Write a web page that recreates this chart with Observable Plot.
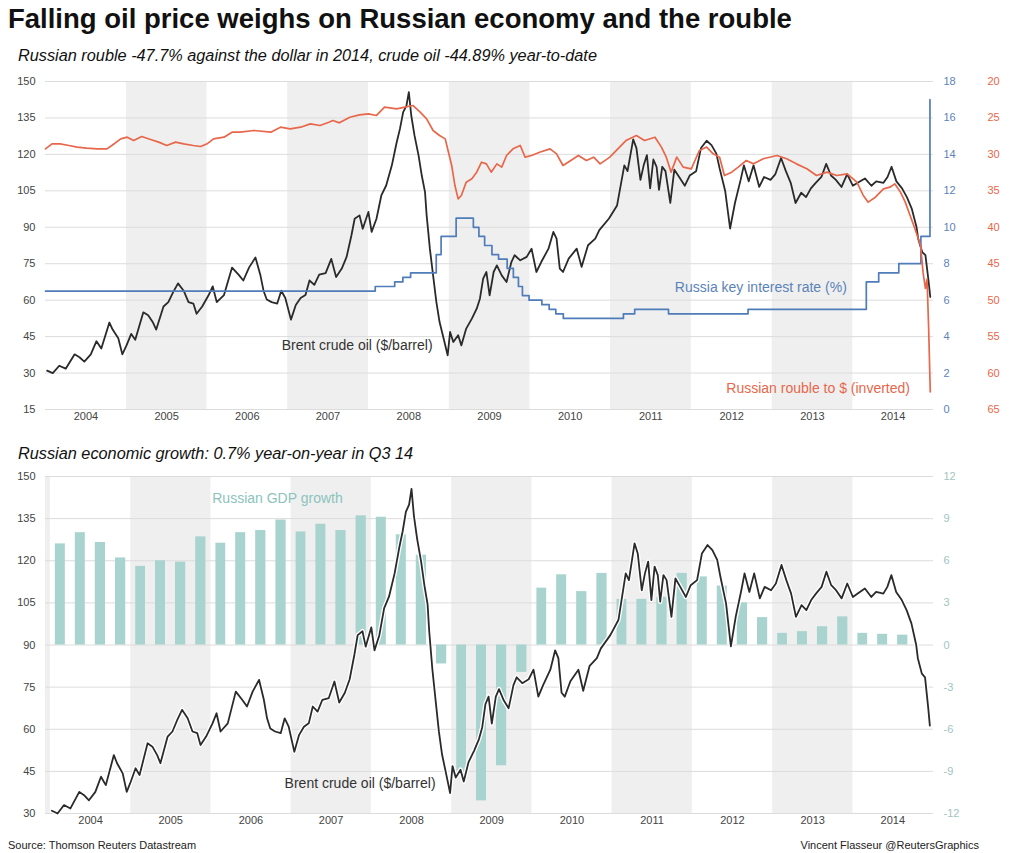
<!DOCTYPE html>
<html>
<head>
<meta charset="utf-8">
<script src="https://cdn.jsdelivr.net/npm/d3@7"></script>
<script src="https://cdn.jsdelivr.net/npm/@observablehq/plot@0.6"></script>
<style>
  body { margin: 0; background: #fff; }
  #page { position: relative; width: 1024px; height: 853px; overflow: hidden; background: #fff;
          font-family: "Liberation Sans", Arial, sans-serif; }
  .abs { position: absolute; white-space: nowrap; }
  #title { left: 8px; top: 5px; font-size: 27.5px; line-height: 28px; font-weight: bold; color: #111; }
  .sub { left: 18px; font-size: 16.3px; line-height: 16px; font-style: italic; color: #111; }
  #sub1 { top: 47px; }
  #sub2 { top: 445px; }
  .foot { top: 840px; font-size: 11px; line-height: 11px; color: #222; }
  #source { left: 8px; }
  #credit { right: 45px; }
  .layer { position: absolute; left: 0; }
</style>
</head>
<body>
<div id="page">
  <div id="title" class="abs">Falling oil price weighs on Russian economy and the rouble</div>
  <div id="sub1" class="abs sub">Russian rouble -47.7% against the dollar in 2014, crude oil -44.89% year-to-date</div>
  <div id="sub2" class="abs sub">Russian economic growth: 0.7% year-on-year in Q3 14</div>
  <div id="source" class="abs foot">Source: Thomson Reuters Datastream</div>
  <div id="credit" class="abs foot">Vincent Flasseur @ReutersGraphics</div>
</div>
<script>
// ---------------- DATA ----------------
// Brent crude oil ($/barrel): time as decimal year, price
const oilTimes = [
  2004.02,2004.09,2004.17,2004.25,2004.36,2004.42,2004.48,2004.56,2004.63,2004.69,2004.79,2004.83,2004.90,2004.95,
  2005.00,2005.06,2005.11,2005.21,2005.27,2005.33,2005.37,2005.46,2005.52,2005.58,2005.64,2005.71,2005.77,2005.83,2005.87,2005.94,
  2006.02,2006.07,2006.12,2006.21,2006.31,2006.39,2006.45,2006.52,2006.60,2006.66,2006.70,2006.74,2006.80,2006.87,2006.92,2006.97,
  2007.04,2007.10,2007.16,2007.22,2007.27,2007.33,2007.39,2007.47,2007.54,2007.60,2007.67,2007.73,2007.79,2007.83,2007.89,2007.93,
  2008.00,2008.04,2008.10,2008.16,2008.22,2008.29,2008.35,2008.39,2008.43,2008.47,2008.50,2008.53,2008.57,2008.62,2008.66,
  2008.70,2008.72,2008.76,2008.80,2008.84,2008.88,2008.93,2008.98,
  2009.01,2009.05,2009.11,2009.15,2009.21,2009.28,2009.34,2009.38,2009.42,2009.46,2009.50,2009.55,2009.59,2009.65,2009.71,
  2009.77,2009.81,2009.88,2009.96,
  2010.02,2010.08,2010.14,2010.23,2010.29,2010.33,2010.37,2010.41,2010.48,2010.58,2010.64,2010.72,2010.81,2010.86,2010.98,
  2011.08,2011.17,2011.21,2011.28,2011.32,2011.37,2011.41,2011.45,2011.49,2011.53,2011.57,2011.60,2011.64,2011.68,2011.74,
  2011.79,2011.85,2011.92,2011.98,
  2012.06,2012.12,2012.19,2012.25,2012.31,2012.35,2012.42,2012.48,2012.54,2012.61,2012.65,2012.71,2012.77,2012.84,2012.90,2012.98,
  2013.04,2013.11,2013.17,2013.23,2013.29,2013.36,2013.42,2013.48,2013.54,2013.61,2013.67,2013.73,2013.79,2013.86,2013.93,
  2014.00,2014.06,2014.15,2014.23,2014.29,2014.38,2014.43,2014.48,2014.54,2014.61,2014.67,2014.73,2014.79,2014.81,2014.86,
  2014.90,2014.94,2014.96
];
const oilPrices = [
  31.0,30.0,33.0,31.8,37.7,36.5,34.7,37.7,43.1,40.1,50.8,47.9,44.3,37.7,
  41.3,46.1,43.7,55.0,53.8,50.8,47.9,57.4,59.2,63.3,66.9,63.9,59.2,58.6,54.4,57.4,
  62.1,65.7,59.2,62.1,73.4,70.5,68.1,73.4,77.6,70.5,63.9,60.3,59.2,58.6,63.9,60.9,
  52.0,58.0,60.9,62.1,68.1,66.3,70.5,71.1,77.0,69.5,73.0,77.8,86.7,93.5,94.9,89.4,
  96.3,88.1,93.5,103.1,107.2,115.5,125.0,130.5,137.4,140.0,145.6,136.0,127.8,119.6,111.3,
  104.5,95.0,81.2,70.2,59.3,51.0,44.2,37.3,
  46.9,42.8,45.6,41.4,48.3,52.4,56.5,60.6,68.9,71.6,62.0,71.6,74.3,70.2,67.5,
  75.7,78.5,76.4,77.8,
  81.2,71.6,75.7,81.2,88.1,85.3,73.0,71.6,77.1,81.2,73.7,82.6,85.3,88.8,93.6,
  99.0,115.5,113.1,126.2,122.6,109.5,115.5,119.7,106.0,117.9,114.9,105.4,114.9,113.1,100.0,
  113.7,110.7,107.1,111.3,
  113.1,122.6,125.6,123.8,120.3,114.3,104.8,89.5,100.0,109.5,115.5,108.9,115.5,106.6,110.7,109.5,
  111.9,118.5,113.1,108.3,100.0,104.2,102.4,106.0,108.3,110.7,116.1,111.3,109.5,106.6,111.9,
  107.1,108.3,110.1,107.1,108.9,108.3,110.7,114.9,108.9,106.0,102.4,97.7,90.0,85.3,79.8,
  78.5,67.5,61.3
];

// Russian rouble per US dollar (plotted inverted)
const roubleTimes = [
  2004.00,2004.08,2004.18,2004.29,2004.39,2004.51,2004.64,2004.76,2004.82,2004.93,
  2005.01,2005.09,2005.19,2005.30,2005.40,2005.50,2005.61,2005.71,2005.83,2005.92,
  2006.00,2006.08,2006.21,2006.31,2006.41,2006.58,2006.79,2006.91,
  2007.03,2007.16,2007.28,2007.40,2007.51,2007.56,2007.64,2007.77,2007.89,
  2008.00,2008.10,2008.20,2008.35,2008.45,2008.55,2008.64,2008.72,2008.80,2008.88,2008.95,2008.99,
  2009.03,2009.07,2009.11,2009.15,2009.21,2009.28,2009.34,2009.40,2009.46,2009.52,2009.59,2009.65,2009.71,2009.79,2009.88,2009.94,
  2010.02,2010.12,2010.25,2010.33,2010.41,2010.54,2010.60,2010.70,2010.79,2010.87,2010.99,
  2011.09,2011.19,2011.32,2011.42,2011.55,2011.63,2011.69,2011.75,2011.82,2011.90,
  2012.00,2012.10,2012.19,2012.27,2012.35,2012.41,2012.50,2012.58,2012.68,2012.77,2012.89,
  2013.06,2013.18,2013.30,2013.43,2013.55,2013.68,2013.80,2013.93,
  2014.05,2014.13,2014.19,2014.28,2014.38,2014.46,2014.52,2014.59,2014.65,2014.71,2014.77,2014.84,
  2014.87,2014.90,2014.92,2014.94,2014.96
];
const roubleRates = [
  29.24,28.55,28.55,28.78,29.0,29.15,29.24,29.24,28.78,27.87,
  27.64,28.1,27.55,27.96,28.32,28.78,28.32,28.55,28.78,28.92,
  28.55,27.87,27.64,26.95,26.95,26.72,26.95,26.27,
  26.49,26.27,25.81,26.04,25.58,25.35,25.67,24.9,24.57,
  24.44,24.66,23.52,23.75,23.52,23.29,24.2,25.12,26.72,27.41,27.87,29.7,
  31.52,34.27,36.1,35.64,33.81,33.35,32.44,31.07,31.3,32.44,31.3,31.75,30.15,29.24,28.78,30.38,
  30.15,29.7,29.24,29.92,31.52,30.6,30.15,30.84,30.38,31.3,30.38,
  29.24,28.1,27.41,28.1,27.64,29.0,30.38,32.44,30.38,31.75,
  31.98,29.47,29.0,29.92,30.38,32.9,32.44,31.75,30.84,31.3,30.6,
  30.15,30.6,31.3,31.98,32.9,32.44,32.9,32.67,
  33.81,35.64,36.55,35.87,34.73,34.5,34.04,35.18,36.55,38.38,40.2,42.5,
  46.16,48.4,47.1,53.9,62.6
];

// Russia key interest rate (%), value in force from each date
const rateDates = [
  "2004-01-01","2008-02-01","2008-04-29","2008-06-05","2008-07-10","2008-11-03","2008-11-25",
  "2009-02-01","2009-04-20","2009-05-15","2009-06-10","2009-07-13","2009-08-12","2009-09-20",
  "2009-10-18","2009-11-10","2009-11-28","2009-12-28","2010-02-24","2010-03-29","2010-04-28",
  "2010-06-01","2011-02-28","2011-04-20","2011-09-20","2012-09-14","2014-03-03","2014-04-28",
  "2014-07-28","2014-11-05","2014-12-16"
];
const rateValues = [
  6.5,6.75,7.0,7.25,7.5,8.5,9.5,
  10.5,10.0,9.5,9.0,8.5,8.25,7.75,
  7.25,6.75,6.25,6.0,5.75,5.5,5.25,
  5.0,5.25,5.5,5.25,5.5,7.0,7.5,
  8.0,9.5,17.0
];

// Russian GDP growth, % year-on-year, quarterly 2004 Q1 - 2014 Q3
const gdpYears    = [2004,2004,2004,2004,2005,2005,2005,2005,2006,2006,2006,2006,2007,2007,2007,2007,
                     2008,2008,2008,2008,2009,2009,2009,2009,2010,2010,2010,2010,2011,2011,2011,2011,
                     2012,2012,2012,2012,2013,2013,2013,2013,2014,2014,2014];
const gdpQuarters = [1,2,3,4,1,2,3,4,1,2,3,4,1,2,3,4,1,2,3,4,1,2,3,4,1,2,3,4,1,2,3,4,1,2,3,4,1,2,3,4,1,2,3];
const gdpGrowth   = [7.2,8.0,7.3,6.2, 5.6,6.0,5.9,7.7, 7.25,8.0,8.15,8.9, 8.05,8.6,8.15,9.2,
                     9.1,7.85,6.4,-1.35, -9.2,-11.1,-8.6,-1.95, 4.05,5.0,3.8,5.1, 3.25,3.25,3.4,5.1,
                     4.85,4.2,3.0,1.95, 0.83,0.95,1.3,2.0, 0.83,0.76,0.7];

// Axis ticks and shaded years
const oilTicksTop    = [15,30,45,60,75,90,105,120,135,150];
const oilTicksBottom = [30,45,60,75,90,105,120,135,150];
const rateTicks      = [0,2,4,6,8,10,12,14,16,18];
const roubleTicks    = [20,25,30,35,40,45,50,55,60,65];
const gdpTicks       = [-12,-9,-6,-3,0,3,6,9,12];
const yearLabels     = [2004,2005,2006,2007,2008,2009,2010,2011,2012,2013,2014];
const shadedYears    = [2003,2005,2007,2009,2011,2013];

// Annotation labels (placed in data units)
const oilLabelTop    = [{t: 2007.86, v: 41.5, text: "Brent crude oil ($/barrel)"}];
const rateLabel      = [{t: 2012.86, v: 6.7,  text: "Russia key interest rate (%)"}];
const roubleLabel    = [{t: 2013.57, v: 62.1, text: "Russian rouble to $ (inverted)"}];
const gdpLabel       = [{t: 2006.83, v: 10.45, text: "Russian GDP growth"}];
const oilLabelBottom = [{t: 2007.86, v: 40.8, text: "Brent crude oil ($/barrel)"}];

// ---------------- HELPERS ----------------
function fromDecimalYear(t) {
  const y = Math.floor(t);
  const a = Date.UTC(y, 0, 1), b = Date.UTC(y + 1, 0, 1);
  return new Date(a + (t - y) * (b - a));
}
const U = (y, m, d) => new Date(Date.UTC(y, m, d));

const oil = oilTimes.map((t, i) => ({date: fromDecimalYear(t), value: oilPrices[i]}));
const rouble = roubleTimes.map((t, i) => ({date: fromDecimalYear(t), value: roubleRates[i]}));
const rate = rateDates.map((d, i) => ({date: new Date(d + "T00:00:00Z"), value: rateValues[i]}));
const gdp = gdpGrowth.map((g, i) => ({
  start: U(gdpYears[i], (gdpQuarters[i] - 1) * 3, 1),
  end: U(gdpYears[i], gdpQuarters[i] * 3, 1),
  value: g
}));
const bands = shadedYears.map(y => ({start: U(y, 0, 1), end: U(y + 1, 0, 1)}));
const yearMids = yearLabels.map(y => U(y, 6, 2));
const lab = arr => arr.map(d => ({...d, date: fromDecimalYear(d.t)}));

const FONT = '"Liberation Sans", Arial, sans-serif';
const style = {background: "transparent", fontFamily: FONT, fontSize: "11px", overflow: "visible"};
const BLUE = "#4f7cba", RED = "#e8674a", OIL = "#2a2a2a", TEAL = "#a8d3ce";

const page = document.getElementById("page");
function place(svg, top) {
  svg.classList.add("layer");
  svg.style.top = top + "px";
  page.appendChild(svg);
}

// ---------------- TOP PANEL ----------------
const topDims = {width: 1024, height: 360, marginTop: 11, marginBottom: 21, marginLeft: 45, marginRight: 91};
const topX = {type: "utc", domain: [U(2004, 0, 1), U(2015, 0, 1)], axis: null};
const TOP = 70;

// base: bands, grid, left and bottom axes
place(Plot.plot({
  ...topDims, style,
  x: topX,
  y: {domain: [15, 150], axis: null},
  marks: [
    Plot.rect(bands, {x1: "start", x2: "end", fill: "#efefef", clip: true}),
    Plot.ruleY(oilTicksTop, {stroke: "#dcdcdc", strokeWidth: 1}),
    Plot.axisY(oilTicksTop, {anchor: "left", tickSize: 0, tickPadding: 10, fill: "#444", label: null}),
    Plot.axisX(yearMids, {anchor: "bottom", tickSize: 0, tickPadding: 3, fill: "#444",
                          tickFormat: d3.utcFormat("%Y"), label: null})
  ]
}), TOP);

// oil line
place(Plot.plot({
  ...topDims, style,
  x: topX,
  y: {domain: [15, 150], axis: null},
  marks: [
    Plot.line(oil, {x: "date", y: "value", stroke: OIL, strokeWidth: 1.8, strokeLinejoin: "round"}),
    Plot.text(lab(oilLabelTop), {x: "date", y: "v", text: "text", fill: "#333", fontSize: 14})
  ]
}), TOP);

// interest rate
place(Plot.plot({
  ...topDims, style,
  x: topX,
  y: {domain: [0, 18], axis: null},
  marks: [
    Plot.line(rate, {x: "date", y: "value", curve: "step-after", stroke: BLUE, strokeWidth: 1.7}),
    Plot.axisY(rateTicks, {anchor: "right", tickSize: 0, tickPadding: 10, fill: "#5b83b9", label: null}),
    Plot.text(lab(rateLabel), {x: "date", y: "v", text: "text", fill: "#5b83b9", fontSize: 14})
  ]
}), TOP);

// rouble (inverted)
place(Plot.plot({
  ...topDims, style,
  x: topX,
  y: {domain: [20, 65], reverse: true, axis: null},
  marks: [
    Plot.line(rouble, {x: "date", y: "value", stroke: RED, strokeWidth: 1.7, strokeLinejoin: "round"}),
    Plot.axisY(roubleTicks, {anchor: "right", tickSize: 0, tickPadding: 54, fill: RED, label: null}),
    Plot.text(lab(roubleLabel), {x: "date", y: "v", text: "text", fill: RED, fontSize: 14})
  ]
}), TOP);

// ---------------- BOTTOM PANEL ----------------
const botDims = {width: 1024, height: 367, marginTop: 10, marginBottom: 20, marginLeft: 45, marginRight: 91};
const botX = {type: "utc", domain: [U(2003, 11, 10), U(2015, 0, 3)], axis: null};
const BOT = 466;

// base: bands, grid, GDP bars, GDP axis
place(Plot.plot({
  ...botDims, style,
  x: botX,
  y: {domain: [-12, 12], axis: null},
  marks: [
    Plot.rect(bands, {x1: "start", x2: "end", fill: "#efefef", clip: true}),
    Plot.ruleY(gdpTicks, {stroke: "#dcdcdc", strokeWidth: 1}),
    Plot.rectY(gdp, {x1: "start", x2: "end", y1: 0, y2: "value", fill: TEAL, insetLeft: 5, insetRight: 5}),
    Plot.axisY(gdpTicks, {anchor: "right", tickSize: 0, tickPadding: 10, fill: "#a0c4c2",
                          tickFormat: d => String(d), label: null}),
    Plot.text(lab(gdpLabel), {x: "date", y: "v", text: "text", fill: "#8cc3bd", fontSize: 14})
  ]
}), BOT);

// oil line with white halo + left/bottom axes
place(Plot.plot({
  ...botDims, style,
  x: botX,
  y: {domain: [30, 150], axis: null},
  marks: [
    Plot.axisY(oilTicksBottom, {anchor: "left", tickSize: 0, tickPadding: 10, fill: "#444", label: null}),
    Plot.axisX(yearMids, {anchor: "bottom", tickSize: 0, tickPadding: 3, fill: "#444",
                          tickFormat: d3.utcFormat("%Y"), label: null}),
    Plot.line(oil, {x: "date", y: "value", stroke: "#fff", strokeWidth: 4.5, strokeLinejoin: "round"}),
    Plot.line(oil, {x: "date", y: "value", stroke: OIL, strokeWidth: 1.8, strokeLinejoin: "round"}),
    Plot.text(lab(oilLabelBottom), {x: "date", y: "v", text: "text", fill: "#333", fontSize: 14})
  ]
}), BOT);
</script>
</body>
</html>
